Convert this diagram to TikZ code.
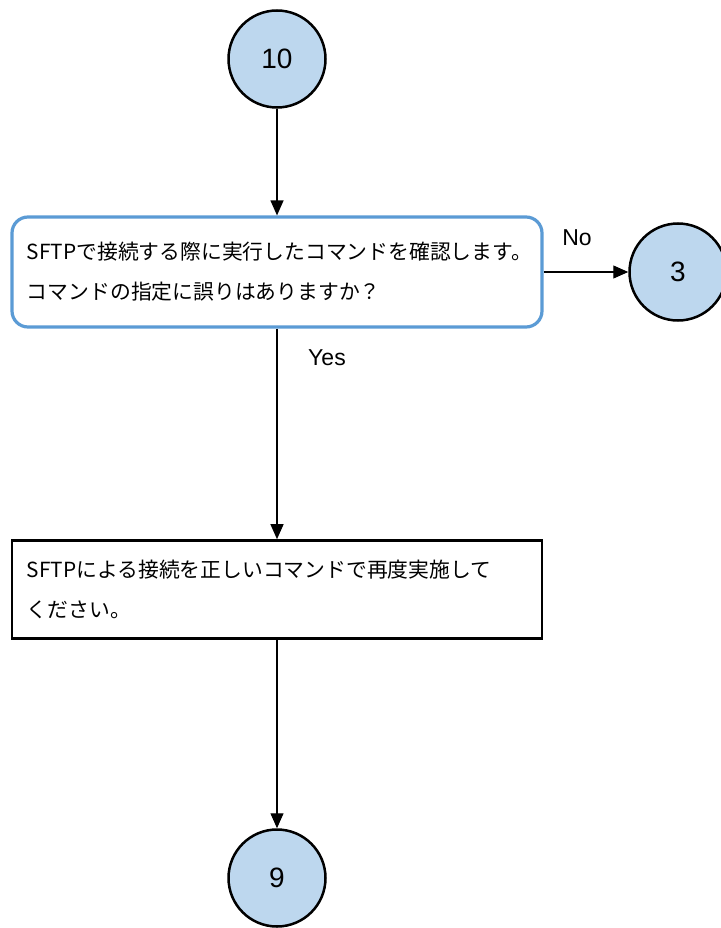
\documentclass[tikz,border=0pt]{standalone}
\usepackage{fontspec}
\setmainfont{Liberation Sans}
\newfontfamily\jpfont{Noto Sans CJK JP}
\usetikzlibrary{arrows.meta}
\definecolor{connfill}{HTML}{BDD7EE}
\definecolor{decblue}{HTML}{5B9BD5}
\begin{document}
\begin{tikzpicture}[x=1pt,y=-1pt,
	connector/.style={ circle, draw, line width=2.5pt, fill=connfill, inner sep=0pt, minimum size=97pt, font=\fontsize{28pt}{32pt}\selectfont },
	decision/.style={ draw=decblue, line width=3.2pt, rounded corners=16pt, fill=white, text width=500pt, inner xsep=15pt, minimum height=110pt, align=left, font=\jpfont\fontsize{20.8pt}{40pt}\selectfont },
	process/.style={ draw, line width=2.6pt, fill=white, text width=500pt, inner xsep=15pt, minimum height=98pt, align=left, font=\jpfont\fontsize{20.8pt}{40pt}\selectfont },
	flow/.style={ line width=1.2pt, -{Triangle[length=15pt,width=13pt]} },
	answer/.style={ font=\fontsize{23pt}{26pt}\selectfont }
]
\useasboundingbox (0,0) rectangle (720,928);

\node at (277,59) (c10) [connector] {10};
\node at (277,272) (check) [decision] {SFTPで接続する際に実行したコマンドを確認します。\\コマンドの指定に誤りはありますか？};
\node at (678,272) (c3) [connector] {3};
\node at (277,589.5) (retry) [process] {SFTPによる接続を正しいコマンドで再度実施して\\ください。};
\node at (277,878) (c9) [connector] {9};

\node at (577,238) (no) [answer] {No};
\node at (327,358) (yes) [answer] {Yes};

\draw[flow] (c10) to (check);
\draw[flow] (check) to (c3);
\draw[flow] (check) to (retry);
\draw[flow] (retry) to (c9);

\end{tikzpicture}
\end{document}
